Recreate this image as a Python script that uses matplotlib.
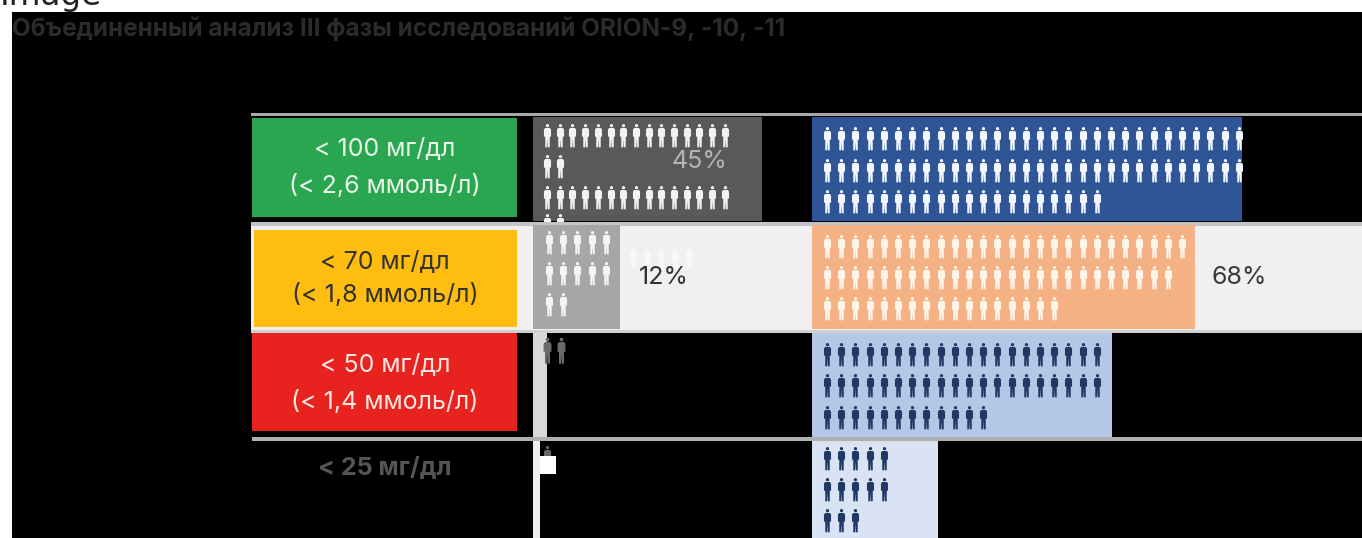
import matplotlib
matplotlib.use("Agg")
import matplotlib.pyplot as plt
from matplotlib.path import Path
from matplotlib.patches import Rectangle

W, H = 1362, 538
plt.rcParams['font.family'] = ['Inter', 'DejaVu Sans']

# ---------- data ----------
title = "Объединенный анализ III фазы исследований ORION-9, -10, -11"
levels = ["< 100 мг/дл\n(< 2,6 ммоль/л)", "< 70 мг/дл\n(< 1,8 ммоль/л)",
          "< 50 мг/дл\n(< 1,4 ммоль/л)", "< 25 мг/дл"]
placebo_bar = [45, 17, 2.7, 1.4]
treated_bar = [76.4, 68, 53.3, 22.4]
placebo_icons = [[15, 2, 15, 2], [5, 5, 2], [2], [1]]
treated_icons = [[30, 30, 20], [26, 25, 17], [20, 20, 12], [5, 5, 3]]

# ---------- styles ----------
placebo_colors = ['#595959', '#a6a6a8', '#d9d9dc', '#eeeeee']
treated_colors = ['#2f5597', '#f4b183', '#b4c7e7', '#dae3f3']
placebo_icon_colors = ['#f2f2f2', '#f4f4f4', '#6a6a6a', '#666666']
treated_icon_colors = ['#f2f6ff', '#fff4e8', '#1f3864', '#1f3864']
box_colors = ['#2aa650', '#ffbe0f', '#e8221f', None]
text_colors = ['#e8f5ea', '#333333', '#fbe6e0', '#555555']
placebo_offsets = [[-34, -3, 28, 56], [-35, -4, 27], [-35], [-36]]
treated_offsets = [[-31, 1, 32], [-31, 0, 31], [-31, 0, 32], [-35, -4, 27]]

ROW0, PITCH = 169, 108
ymin, ymax = (12 - ROW0) / PITCH, (538 - ROW0) / PITCH


def person():
    head = Path.circle((0, 0.83), 0.14)
    body = Path([(-0.20, 0.64), (0.20, 0.64), (0.30, 0.50), (0.30, -0.10), (0.19, -0.10),
                 (0.19, -1.0), (0.03, -1.0), (0.0, -0.25), (-0.03, -1.0), (-0.19, -1.0),
                 (-0.19, -0.10), (-0.30, -0.10), (-0.30, 0.50), (-0.20, 0.64)], closed=True)
    return Path.make_compound_path(head, body)


PERSON = person()
fig = plt.figure(figsize=(W / 100, H / 100), dpi=100, facecolor='white')


def make_ax(x0, x1, xlim, z):
    a = fig.add_axes([x0 / W, 0, (x1 - x0) / W, (H - 12) / H], zorder=z)
    a.set_xlim(*xlim)
    a.set_ylim(ymax, ymin)
    a.axis('off')
    return a


# layout layer, in pixels
bg = fig.add_axes([0, 0, 1, 1], zorder=0)
bg.set_xlim(0, W)
bg.set_ylim(H, 0)
bg.axis('off')
bg.add_patch(Rectangle((12, 12), W - 12, H - 12, fc='black', ec='none'))
bg.text(0, 5, "Image", fontsize=23.5, family='DejaVu Sans', color='#222222', va='baseline', ha='left')
bg.text(12, 29, title, fontsize=17.5, fontweight='bold', color='#2b2b2b', va='center', ha='left')

SCALE_P, SCALE_T = 5.09, 5.63
ax_p = make_ax(533, 812, (0, 279 / SCALE_P), 1)
ax_t = make_ax(812, W, (0, 550 / SCALE_T), 2)
rows = list(range(len(levels)))
p_bars = ax_p.barh(rows, placebo_bar, height=0.965, color=placebo_colors, linewidth=0, zorder=1)
ax_t.barh(rows, treated_bar, height=0.965, color=treated_colors, linewidth=0, zorder=1)


def icons(ax, scale, counts, offsets, color, row, start, step, ms=17, clip=None):
    for cnt, off in zip(counts, offsets):
        xs = [(start + k * step) / scale for k in range(cnt)]
        ys = [row + off / PITCH] * cnt
        ln, = ax.plot(xs, ys, ls='none', marker=PERSON, ms=ms, mfc=color, mec='none', zorder=3)
        if clip is not None:
            ln.set_clip_path(clip)


p_start = [14, 16, 14, 14]
p_step = [12.7, 14.2, 14.2, 14.2]
p_ms = [17, 17, 19, 17]
for r in rows:
    icons(ax_t, SCALE_T, treated_icons[r], treated_offsets[r], treated_icon_colors[r], r, 15, 14.2)
    icons(ax_p, SCALE_P, placebo_icons[r], placebo_offsets[r], placebo_icon_colors[r], r,
          p_start[r], p_step[r], ms=p_ms[r], clip=p_bars[r] if r == 0 else None)

# ghost row of icons behind the 12% label, on the pale band
icons(ax_p, SCALE_P, [5], [-19], '#f8f8fa', 1, 100, 14)

# pale band behind row 2 and rules
bg.add_patch(Rectangle((251, 225), W - 251, 105, fc='#f0f0f3', ec='none'))
for y, h, c, x0 in [(113, 2.5, '#a8a8a8', 251), (222, 3.5, '#c4c4c8', 251),
                    (330, 3, '#d0d0d0', 251), (437, 4, '#b0b0b0', 252)]:
    bg.add_patch(Rectangle((x0, y), W - x0, h, fc=c, ec='none', zorder=5))

# label boxes
boxes = [(252, 118, 265, 99), (254, 230, 263, 97), (252, 333, 265, 98)]
centres = [168, 279, 384, 468]
spacing = [1.64, 1.5, 1.64, 1.2]
for r, lab in enumerate(levels):
    if box_colors[r]:
        x, y, w, h = boxes[r]
        bg.add_patch(Rectangle((x, y), w, h, fc=box_colors[r], ec='none', zorder=6))
    bg.text(385, centres[r], lab, ha='center', va='center', fontsize=18,
            color=text_colors[r], linespacing=spacing[r], zorder=7,
            fontweight='normal' if r < 3 else 'bold')

# value labels and the white chip sit above every axes
ov = fig.add_axes([0, 0, 1, 1], zorder=10)
ov.set_xlim(0, W)
ov.set_ylim(H, 0)
ov.axis('off')
value_labels = [("45%", 699, 161, '#b5b5b5'), ("12%", 664, 277, '#333333'), ("68%", 1239, 277, '#3a3a3a')]
for s, x, y, c in value_labels:
    ov.text(x, y, s, ha='center', va='center', fontsize=18, color=c)
ov.add_patch(Rectangle((540, 456), 16, 18, fc='white', ec='none'))

fig.savefig('out.png', dpi=100, facecolor='white')
